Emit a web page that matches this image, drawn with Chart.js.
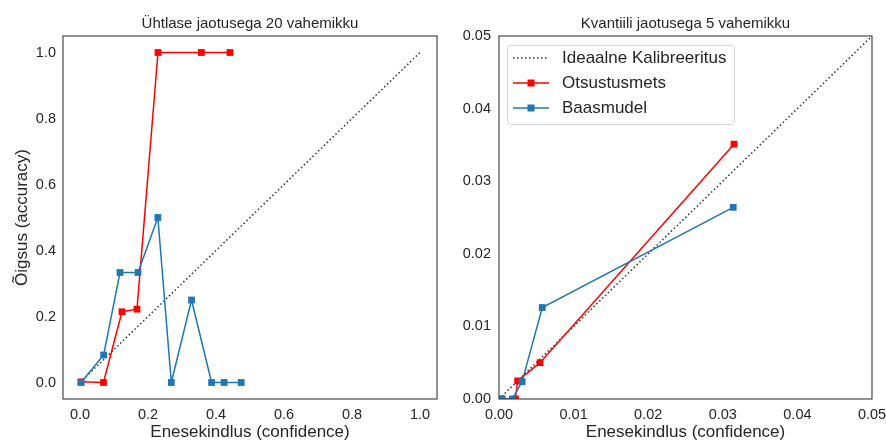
<!DOCTYPE html>
<html>
<head>
<meta charset="utf-8">
<script src="https://cdn.jsdelivr.net/npm/chart.js@4.4.1/dist/chart.umd.min.js"></script>
<style>
html,body{margin:0;padding:0;width:886px;height:441px;overflow:hidden;background:#fff;}
#c1{position:absolute;left:0;top:0;}
#c2{position:absolute;left:443px;top:0;}
#legend{position:absolute;left:507px;top:45px;width:226px;height:78px;border:1px solid #d6d6d6;border-radius:4px;background:rgba(255,255,255,0.85);font-family:'Liberation Sans',Arial,sans-serif;font-size:17px;color:#262626;}
.row{position:absolute;left:0;height:24px;width:226px;}
.row svg{position:absolute;left:4px;top:0;}
.row span{position:absolute;left:54px;top:2px;white-space:nowrap;}
</style>
</head>
<body>
<canvas id="c1" width="443" height="441"></canvas>
<canvas id="c2" width="463" height="441"></canvas>
<div id="legend">
  <div class="row" style="top:0px"><svg width="38" height="24"><line x1="1" y1="12" x2="37" y2="12" stroke="#333" stroke-width="1.5" stroke-dasharray="1.5 2.5"/></svg><span>Ideaalne Kalibreeritus</span></div>
  <div class="row" style="top:25px"><svg width="38" height="24"><line x1="1" y1="12" x2="37" y2="12" stroke="#ff0000" stroke-width="1.5"/><rect x="15.5" y="8.5" width="7" height="7" fill="#ff0000"/></svg><span>Otsustusmets</span></div>
  <div class="row" style="top:50px"><svg width="38" height="24"><line x1="1" y1="12" x2="37" y2="12" stroke="#1f77b4" stroke-width="1.5"/><rect x="15.5" y="8.5" width="7" height="7" fill="#1f77b4"/></svg><span>Baasmudel</span></div>
</div>
<script>
// ---- data ----
const idealX = [0, 1];
const idealY = [0, 1];

// left: uniform binning (20 bins)
const leftConfRed  = [0.003, 0.069, 0.1235, 0.1676, 0.2294, 0.357, 0.441];
const leftAccRed   = [0.002, 0.0, 0.2143, 0.2222, 1.0, 1.0, 1.0];
const leftConfBlue = [0.003, 0.0696, 0.1176, 0.1706, 0.229, 0.2686, 0.328, 0.387, 0.424, 0.474];
const leftAccBlue  = [0.0, 0.0833, 0.3333, 0.3333, 0.5, 0.0, 0.25, 0.0, 0.0, 0.0];

// right: quantile binning (5 bins)
const rightConfRed  = [0.0004, 0.0022, 0.0025, 0.0055, 0.0315];
const rightAccRed   = [0.0, 0.0, 0.0025, 0.0050, 0.0351];
const rightConfBlue = [0.0004, 0.0018, 0.0031, 0.0058, 0.0314];
const rightAccBlue  = [0.0, 0.0, 0.0024, 0.0126, 0.0264];

// ticks
const leftTicks = [0, 0.2, 0.4, 0.6, 0.8, 1.0];
const leftTickLabels = ['0.0', '0.2', '0.4', '0.6', '0.8', '1.0'];
const rightTicks = [0, 0.01, 0.02, 0.03, 0.04, 0.05];
const rightTickLabels = ['0.00', '0.01', '0.02', '0.03', '0.04', '0.05'];

const leftTitle = 'Ühtlase jaotusega 20 vahemikku';
const rightTitle = 'Kvantiili jaotusega 5 vahemikku';
const xLabel = 'Enesekindlus (confidence)';
const yLabel = 'Õigsus (accuracy)';
const seriesNames = ['Ideaalne Kalibreeritus', 'Otsustusmets', 'Baasmudel'];

// ---- drawing ----
const FONT = "'Liberation Sans', Arial, sans-serif";
const TXT = '#262626';
Chart.defaults.font.family = FONT;
Chart.defaults.color = TXT;

const pts = (xs, ys) => xs.map((x, i) => ({x: x, y: ys[i]}));

const framePlugin = {
  id: 'frame',
  afterDatasetsDraw(chart) {
    const a = chart.chartArea, c = chart.ctx;
    c.save();
    c.strokeStyle = '#3a3a3a';
    c.lineWidth = 1.1;
    c.strokeRect(a.left, a.top, a.right - a.left, a.bottom - a.top);
    c.restore();
  }
};

function makeChart(el, cfg) {
  const setTicks = (vals) => (axis) => { axis.ticks = vals.map(v => ({value: v})); };
  const datasets = [
    {label: seriesNames[0], data: pts(idealX, idealY), borderColor: '#333333', borderWidth: 1.5,
     borderDash: [1.5, 2.5], pointRadius: 0, order: 3, fill: false},
    {label: seriesNames[1], data: pts(cfg.rx, cfg.ry), borderColor: '#ff0000', backgroundColor: '#ff0000',
     borderWidth: 1.5, pointStyle: 'rect', pointRadius: 4.8, pointBorderWidth: 0, order: 2, fill: false},
    {label: seriesNames[2], data: pts(cfg.bx, cfg.by), borderColor: '#1f77b4', backgroundColor: '#1f77b4',
     borderWidth: 1.5, pointStyle: 'rect', pointRadius: 4.8, pointBorderWidth: 0, order: 1, fill: false}
  ];
  return new Chart(el, {
    type: 'line',
    data: {datasets},
    options: {
      responsive: false,
      animation: false,
      events: [],
      layout: {padding: {left: 0, right: cfg.padRight, top: 0, bottom: 0}},
      plugins: {
        legend: {display: false},
        tooltip: {enabled: false},
        title: {display: true, fullSize: false, text: cfg.title, color: TXT, font: {size: 15, weight: 'normal'},
                padding: {top: 15, bottom: 3}}
      },
      scales: {
        x: {
          type: 'linear', min: cfg.xmin, max: cfg.xmax,
          grid: {display: false, drawTicks: false}, border: {display: false},
          afterBuildTicks: setTicks(cfg.ticks),
          afterFit: (s) => { s.height = 42; },
          ticks: {font: {size: 14.5}, color: TXT, padding: 7, maxRotation: 0, autoSkip: false,
                  callback: (v, i) => cfg.labels[i]},
          title: {display: true, text: xLabel, color: TXT, font: {size: 17}, padding: {top: 0, bottom: -2}}
        },
        y: {
          type: 'linear', min: cfg.ymin, max: cfg.ymax,
          grid: {display: false, drawTicks: false}, border: {display: false},
          afterBuildTicks: setTicks(cfg.ticks),
          afterFit: (s) => { s.width = cfg.yWidth; },
          ticks: {font: {size: 14.5}, color: TXT, padding: cfg.yPad, autoSkip: false,
                  callback: (v, i) => cfg.labels[i]},
          title: {display: cfg.yTitle, text: yLabel, color: TXT, font: {size: 17}, padding: {top: 12, bottom: 0}}
        }
      }
    },
    plugins: [framePlugin]
  });
}

makeChart(document.getElementById('c1'), {
  title: leftTitle, rx: leftConfRed, ry: leftAccRed, bx: leftConfBlue, by: leftAccBlue,
  xmin: -0.05, xmax: 1.05, ymin: -0.05, ymax: 1.05, ticks: leftTicks, labels: leftTickLabels,
  yWidth: 63, yPad: 7, yTitle: true, padRight: 6
});
makeChart(document.getElementById('c2'), {
  title: rightTitle, rx: rightConfRed, ry: rightAccRed, bx: rightConfBlue, by: rightAccBlue,
  xmin: 0, xmax: 0.05, ymin: 0, ymax: 0.05, ticks: rightTicks, labels: rightTickLabels,
  yWidth: 56, yPad: 8, yTitle: false, padRight: 34
});
</script>
</body>
</html>
